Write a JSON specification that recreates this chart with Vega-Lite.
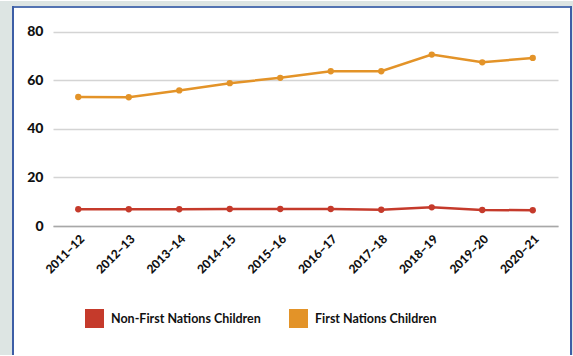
{
  "$schema": "https://vega.github.io/schema/vega-lite/v6.json",
  "padding": 0,
  "background": "white",
  "config": {
    "view": {"stroke": null},
    "concat": {"spacing": 0},
    "font": "Lato"
  },
  "datasets": {
    "blank": [{}],
    "main": [
      {"year": "2011–12", "group": "Non-First Nations Children", "value": 6.9},
      {"year": "2012–13", "group": "Non-First Nations Children", "value": 6.9},
      {"year": "2013–14", "group": "Non-First Nations Children", "value": 6.9},
      {"year": "2014–15", "group": "Non-First Nations Children", "value": 7.0},
      {"year": "2015–16", "group": "Non-First Nations Children", "value": 7.0},
      {"year": "2016–17", "group": "Non-First Nations Children", "value": 7.0},
      {"year": "2017–18", "group": "Non-First Nations Children", "value": 6.7},
      {"year": "2018–19", "group": "Non-First Nations Children", "value": 7.7},
      {"year": "2019–20", "group": "Non-First Nations Children", "value": 6.6},
      {"year": "2020–21", "group": "Non-First Nations Children", "value": 6.5},
      {"year": "2011–12", "group": "First Nations Children", "value": 53.2},
      {"year": "2012–13", "group": "First Nations Children", "value": 53.1},
      {"year": "2013–14", "group": "First Nations Children", "value": 55.9},
      {"year": "2014–15", "group": "First Nations Children", "value": 58.9},
      {"year": "2015–16", "group": "First Nations Children", "value": 61.1},
      {"year": "2016–17", "group": "First Nations Children", "value": 63.8},
      {"year": "2017–18", "group": "First Nations Children", "value": 63.8},
      {"year": "2018–19", "group": "First Nations Children", "value": 70.7},
      {"year": "2019–20", "group": "First Nations Children", "value": 67.5},
      {"year": "2020–21", "group": "First Nations Children", "value": 69.3}
    ]
  },
  "bounds": "flush",
  "spacing": 0,
  "vconcat": [
    {"width": 573, "height": 5, "data": {"name": "blank"}, "mark": {"type": "point", "opacity": 0}, "view": {"fill": "#dde5e3", "stroke": null}},
    {"bounds": "flush", "spacing": 0, "hconcat": [
      {"width": 12, "height": 2, "data": {"name": "blank"}, "mark": {"type": "point", "opacity": 0}, "view": {"fill": "#dde5e3", "stroke": null}},
      {"width": 560, "height": 2, "data": {"name": "blank"}, "mark": {"type": "point", "opacity": 0}, "view": {"fill": "#5474b2", "stroke": null}},
      {"width": 1, "height": 2, "data": {"name": "blank"}, "mark": {"type": "point", "opacity": 0}, "view": {"fill": "#dde5e3", "stroke": null}}
    ]},
    {"bounds": "flush", "spacing": 0, "hconcat": [
      {"width": 12, "height": 349, "data": {"name": "blank"}, "mark": {"type": "point", "opacity": 0}, "view": {"fill": "#dde5e3", "stroke": null}},
      {"width": 2, "height": 349, "data": {"name": "blank"}, "mark": {"type": "point", "opacity": 0}, "view": {"fill": "#3d5ea6", "stroke": null}},
      {"width": 39, "height": 349, "data": {"name": "blank"}, "mark": {"type": "point", "opacity": 0}},
      {
        "width": 505,
        "height": 220,
        "data": {"name": "main"},
        "encoding": {
          "x": {
            "field": "year", "type": "ordinal", "sort": null,
            "scale": {"type": "point", "padding": 0.5},
            "axis": {"title": null, "labelAngle": -45, "labelFontWeight": 900, "labelFontSize": 12, "labelColor": "#111111", "ticks": false, "domainColor": "#a8a8a8", "domainWidth": 1.5, "grid": false, "labelPadding": 7}
          },
          "y": {
            "field": "value", "type": "quantitative",
            "scale": {"domain": [0, 90.72], "nice": false},
            "axis": {"title": null, "values": [0, 20, 40, 60, 80], "ticks": false, "domain": false, "gridColor": "#d4d4d4", "gridWidth": 1.5, "labelFontSize": 14, "labelFontWeight": 900, "labelColor": "#111111", "labelPadding": 10}
          },
          "color": {
            "field": "group", "type": "nominal",
            "scale": {"domain": ["Non-First Nations Children", "First Nations Children"], "range": ["#c53a2b", "#e39328"]},
            "legend": {
              "orient": "none", "legendX": 85, "legendY": 308, "direction": "horizontal", "title": null,
              "symbolType": "square", "symbolSize": 361, "labelFontSize": 12.5, "labelFontWeight": "bold", "labelColor": "#111111",
              "columnPadding": 28, "labelOffset": 7, "symbolStrokeWidth": 0, "symbolOpacity": 1,
              "encode": {"symbols": {"update": {"fill": {"scale": "color", "field": "value"}, "stroke": {"value": "transparent"}, "opacity": {"value": 1}}}}
            }
          }
        },
        "layer": [
          {"mark": {"type": "line", "strokeWidth": 2.5}},
          {"mark": {"type": "point", "filled": true, "size": 40, "opacity": 1}}
        ]
      },
      {"width": 12, "height": 349, "data": {"name": "blank"}, "mark": {"type": "point", "opacity": 0}},
      {"width": 2, "height": 349, "data": {"name": "blank"}, "mark": {"type": "point", "opacity": 0}, "view": {"fill": "#3d5ea6", "stroke": null}},
      {"width": 1, "height": 349, "data": {"name": "blank"}, "mark": {"type": "point", "opacity": 0}, "view": {"fill": "#dde5e3", "stroke": null}}
    ]}
  ]
}
